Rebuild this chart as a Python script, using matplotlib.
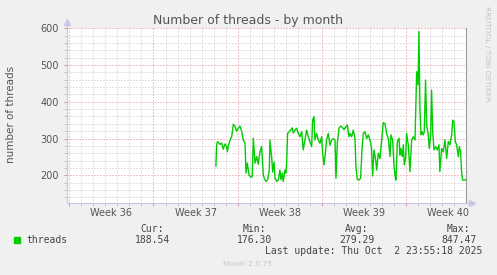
import matplotlib
matplotlib.use("Agg")
import matplotlib.pyplot as plt
import matplotlib.patches as patches
import matplotlib.transforms as mtransforms
import numpy as np

# time in days since start of week 36, thread count (monthly averages)
days = [
    12.19, 12.25, 12.31, 12.39, 12.53, 12.67, 12.80, 12.94, 13.08, 13.14,
    13.22, 13.36, 13.50, 13.64, 13.77, 13.91, 14.05, 14.19, 14.33, 14.47,
    14.61, 14.69, 14.80, 14.94, 15.08, 15.21, 15.30, 15.44, 15.58, 15.71,
    15.85, 15.99, 16.13, 16.21, 16.35, 16.49, 16.63, 16.68, 16.82, 16.91,
    17.02, 17.10, 17.24, 17.38, 17.51, 17.60, 17.71, 17.79, 17.93, 18.01,
    18.07, 18.15, 18.29, 18.40, 18.54, 18.62, 18.76, 18.90, 19.04, 19.18,
    19.32, 19.45, 19.59, 19.73, 19.87, 20.01, 20.15, 20.23, 20.34, 20.42,
    20.56, 20.70, 20.84, 20.98, 21.06, 21.17, 21.26, 21.39, 21.53, 21.67,
    21.81, 21.95, 22.09, 22.17, 22.28, 22.42, 22.56, 22.70, 22.84, 22.97,
    23.11, 23.25, 23.33, 23.47, 23.61, 23.75, 23.83, 23.94, 24.08, 24.22,
    24.33, 24.44, 24.58, 24.72, 24.86, 25.00, 25.13, 25.22, 25.33, 25.47,
    25.55, 25.69, 25.83, 25.97, 26.10, 26.24, 26.38, 26.52, 26.66, 26.74,
    26.88, 26.99, 27.07, 27.16, 27.27, 27.41, 27.49, 27.57, 27.68, 27.77,
    27.85, 27.96, 28.04, 28.18, 28.32, 28.46, 28.60, 28.74, 28.88, 28.99,
    29.07, 29.15, 29.24, 29.32, 29.43, 29.51, 29.62, 29.71, 29.84, 29.93,
    30.04, 30.12, 30.21, 30.32, 30.45, 30.59, 30.73, 30.81, 30.95, 31.09,
    31.23, 31.37, 31.51, 31.65, 31.79, 31.87, 31.98, 32.09, 32.20, 32.34,
    32.43, 32.53, 32.62, 32.70, 32.89, 32.98,
]
threads = [
    225, 282, 291, 290, 284, 288, 271, 285, 278, 264,
    280, 295, 305, 339, 334, 320, 328, 334, 320, 296,
    287, 206, 233, 201, 195, 196, 301, 233, 251, 230,
    264, 278, 201, 192, 183, 188, 214, 296, 251, 209,
    236, 193, 183, 188, 214, 188, 206, 183, 214, 206,
    236, 314, 319, 323, 329, 315, 323, 328, 314, 305,
    319, 269, 296, 323, 305, 291, 278, 350, 360, 296,
    314, 296, 287, 305, 260, 228, 251, 296, 314, 282,
    296, 300, 296, 192, 287, 328, 334, 330, 324, 331,
    337, 305, 314, 305, 323, 300, 223, 189, 187, 192,
    269, 314, 319, 300, 310, 296, 273, 198, 269, 242,
    214, 260, 246, 296, 343, 341, 314, 300, 251, 310,
    296, 228, 201, 187, 291, 301, 255, 273, 251, 283,
    228, 246, 314, 283, 210, 296, 305, 296, 482, 446,
    591, 382, 310, 319, 310, 319, 459, 337, 310, 273,
    310, 432, 319, 269, 278, 269, 283, 210, 273, 264,
    296, 246, 292, 283, 310, 350, 346, 292, 283, 251,
    278, 264, 205, 187, 187, 188.5,
]

week_labels = ["Week 36", "Week 37", "Week 38", "Week 39", "Week 40"]
stats_names = ["Cur:", "Min:", "Avg:", "Max:"]
stats_values = ["188.54", "176.30", "279.29", "847.47"]
last_update = "Last update: Thu Oct  2 23:55:18 2025"

W, H = 497, 275
BG = "#f0f0f0"
GREEN = "#00cc00"
MGRID = "#e08c8c"
GRID = "#c4c4c4"
AXIS = "#c8c8e6"
TXT = "#555555"


def fx(x):
    return x / W


def fy(y):
    return 1 - y / H


fig = plt.figure(figsize=(W / 100, H / 100), dpi=100, facecolor=BG)
left, right, top, bottom = 67, 466, 28.3, 202.7
ax = fig.add_axes([fx(left), fy(bottom), (right - left) / W, (bottom - top) / H])
ax.set_facecolor("white")

ax.set_xlim(-0.19, 32.98)
ax.set_ylim(125.4, 600)

# grid: red dotted every week / 100, gray dotted every day / 20
week_starts = np.arange(0, 33, 7)
ax.set_xticks(week_starts)
ax.set_xticklabels([])
ax.set_xticks(np.arange(0, 33, 1), minor=True)
ax.set_yticks(np.arange(200, 601, 100))
ax.set_yticks(np.arange(140, 600, 20), minor=True)
ax.grid(which="minor", color=GRID, linestyle=(0, (1, 2)), linewidth=0.72)
ax.grid(which="major", color=MGRID, linestyle=(0, (1, 2)), linewidth=0.72)
ax.set_axisbelow(True)

ax.tick_params(axis="both", which="major", length=2, width=0.7, color=MGRID,
               labelsize=7, labelcolor=TXT, pad=4)
ax.tick_params(axis="both", which="minor", length=2, width=0.7, color=GRID)

ax.spines["top"].set_visible(False)
ax.spines["left"].set_color(AXIS)
ax.spines["bottom"].set_color(AXIS)
ax.spines["right"].set_color("#999999")
for s in ["left", "bottom", "right"]:
    ax.spines[s].set_linewidth(0.8)

# axis arrows
ax.plot([0, 0], [1, 1.035], transform=ax.transAxes, color=AXIS, lw=0.8, clip_on=False)
ax.plot([0], [1.035], marker="^", ms=4, color=AXIS, transform=ax.transAxes, clip_on=False)
ax.plot([1, 1.012], [0, 0], transform=ax.transAxes, color=AXIS, lw=0.8, clip_on=False)
ax.plot([1.014], [0], marker=">", ms=4, color=AXIS, transform=ax.transAxes, clip_on=False)

ax.plot(days, threads, color=GREEN, lw=1.0, zorder=3)

# week labels at mid-week
trans = mtransforms.blended_transform_factory(ax.transData, ax.transAxes)
for i, lab in enumerate(week_labels):
    ax.text(week_starts[i] + 3.5, -0.0745, lab, transform=trans, ha="center",
            va="baseline", fontsize=7, color=TXT)

fig.text(fx(248), fy(24), "Number of threads - by month", ha="center", va="baseline",
         fontsize=9, color=TXT)
fig.text(fx(11), fy(114.5), "number of threads", rotation=90, ha="center", va="center",
         fontsize=7.5, color=TXT)
fig.text(fx(486.5), fy(53.5), "RRDTOOL / TOBI OETIKER", rotation=270, ha="center",
         va="center", fontsize=5.4, color="#c4c4c4")

# legend
fig.patches.append(patches.Rectangle((fx(14), fy(242.7)), 6 / W, 6 / H,
                                     transform=fig.transFigure, color=GREEN))
mono = "DejaVu Sans Mono"
fig.text(fx(26.7), fy(243), "threads", ha="left", va="baseline", fontsize=7,
         family=mono, color="#444444")
for cx, name, val in zip([152, 254.5, 356.7, 458.5], stats_names, stats_values):
    fig.text(fx(cx), fy(231.5), name, ha="center", va="baseline", fontsize=7,
             family=mono, color="#444444")
    fig.text(fx(cx), fy(243), val, ha="center", va="baseline", fontsize=7,
             family=mono, color="#444444")
fig.text(fx(482.7), fy(254.3), last_update, ha="right", va="baseline", fontsize=7,
         family=mono, color="#444444")
fig.text(fx(247.8), fy(266.5), "Munin 2.0.75", ha="center", va="baseline",
         fontsize=5.4, color="#c8c8c8")

fig.savefig("out.png", dpi=100, facecolor=BG)
